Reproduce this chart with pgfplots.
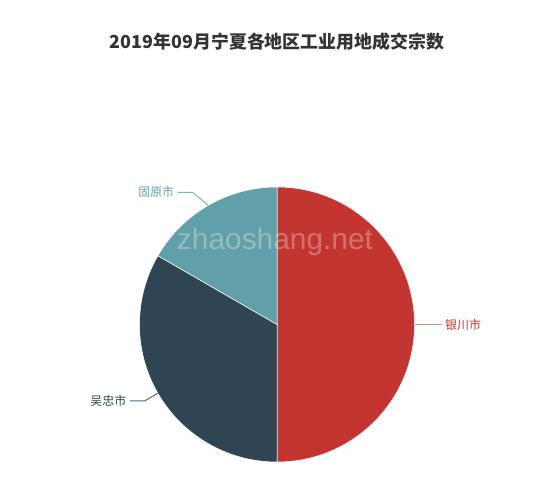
\documentclass[border=0pt]{standalone}
\usepackage{fontspec}
\setmainfont{Noto Sans CJK SC}
\newfontfamily\wmfont{Liberation Sans}
\usepackage{pgfplots}
\usepackage{pgfplotstable}
\pgfplotsset{compat=1.18}
\definecolor{yinchuan}{HTML}{C23531}
\definecolor{wuzhong}{HTML}{2F4554}
\definecolor{guyuan}{HTML}{61A0A8}
\definecolor{titlegray}{HTML}{333333}

% deals per city, clockwise from the top
\pgfplotstableread{
id value
yc 3
wz 2
gy 1
}\deals

\pgfplotstablegetelem{0}{value}\of\deals \let\va\pgfplotsretval
\pgfplotstablegetelem{1}{value}\of\deals \let\vb\pgfplotsretval
\pgfplotstablegetelem{2}{value}\of\deals \let\vc\pgfplotsretval
\pgfmathsetmacro\total{\va+\vb+\vc}
\pgfmathsetmacro\aA{90}
\pgfmathsetmacro\aB{\aA-360*\va/\total}
\pgfmathsetmacro\aC{\aB-360*\vb/\total}
\pgfmathsetmacro\aD{\aC-360*\vc/\total}
\pgfmathsetmacro\mA{(\aA+\aB)/2}
\pgfmathsetmacro\mB{(\aB+\aC)/2}
\pgfmathsetmacro\mC{(\aC+\aD)/2}

\begin{document}%
\begin{tikzpicture}
\useasboundingbox (0,0) rectangle (550bp,490bp);
\node[font=\bfseries\fontsize{18}{21}\selectfont, text=titlegray] at (277bp,448bp)
  {2019年09月宁夏各地区工业用地成交宗数};
\begin{axis}[
  at={(277bp,165.5bp)}, anchor=origin,
  width=275bp, height=275bp, scale only axis,
  xmin=-1, xmax=1, ymin=-1, ymax=1,
  hide axis, clip=false,
]
\filldraw[fill=yinchuan, draw=white, line width=0.5bp] (0,0) -- ({cos(\aA)},{sin(\aA)})
  arc[start angle=\aA, end angle=\aB, radius=137.5bp] -- cycle;
\filldraw[fill=wuzhong, draw=white, line width=0.5bp] (0,0) -- ({cos(\aB)},{sin(\aB)})
  arc[start angle=\aB, end angle=\aC, radius=137.5bp] -- cycle;
\filldraw[fill=guyuan, draw=white, line width=0.5bp] (0,0) -- ({cos(\aC)},{sin(\aC)})
  arc[start angle=\aC, end angle=\aD, radius=137.5bp] -- cycle;
% leader lines and labels
\coordinate (eA) at ({1.11*cos(\mA)},{1.11*sin(\mA)});
\coordinate (eB) at ({1.11*cos(\mB)},{1.11*sin(\mB)});
\coordinate (eC) at ({1.11*cos(\mC)},{1.11*sin(\mC)});
\draw[yinchuan!60, line width=1bp] ({cos(\mA)},{sin(\mA)}) -- (eA) -- ([xshift=12bp]eA)
  node[anchor=west, inner sep=3bp, text=yinchuan, font=\fontsize{12}{14}\selectfont] {银川市};
\draw[wuzhong!80, line width=1bp] ({cos(\mB)},{sin(\mB)}) -- (eB) -- ([xshift=-15bp]eB)
  node[anchor=east, inner sep=3bp, text=wuzhong, font=\fontsize{12}{14}\selectfont] {吴忠市};
\draw[guyuan!80, line width=1bp] ({cos(\mC)},{sin(\mC)}) -- ([xshift=-8bp]eC) -- ([xshift=-23bp]eC)
  node[anchor=east, inner sep=3bp, text=guyuan, font=\fontsize{12}{14}\selectfont] {固原市};
\end{axis}
\node[font=\wmfont\fontsize{30}{34}\selectfont, text=white, text opacity=0.3] at (275bp,248bp) {zhaoshang.net};
\end{tikzpicture}%
\end{document}
